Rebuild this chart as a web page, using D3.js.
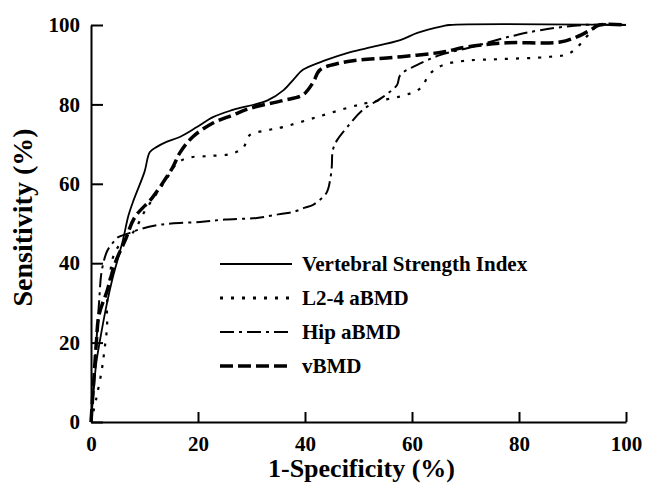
<!DOCTYPE html>
<html lang="en">
<head>
  <meta charset="utf-8">
  <title>ROC curves</title>
  <script src="https://d3js.org/d3.v7.min.js"></script>
  <style>
    body { margin: 0; background: #fff; }
    text { font-family: "Liberation Serif", "Times New Roman", serif; font-weight: bold; fill: #000; }
    .axis path, .axis line { stroke: #000; stroke-width: 2px; }
    .axis text { font-size: 21px; }
    .curve { fill: none; stroke: #000; stroke-linejoin: round; }
  </style>
</head>
<body>
  <svg width="648" height="494"></svg>
  <script>
    // series names (legend order)
    var seriesNames = ["Vertebral Strength Index", "L2-4 aBMD", "Hip aBMD", "vBMD"];

    // ROC points: [1-specificity %, sensitivity %]
    var vsiPoints = [[0,0],[0.5,8],[1,15],[2,23],[3,30],[4,36],[5,41],[6,46],[7,52],[8,56],[10,63],[11,68],
      [12.3,69.3],[14,70.5],[16.6,71.8],[19.8,74.3],[22.8,76.8],[26.5,78.6],[33,81],[36,83.6],[38,86.5],
      [39.6,88.7],[44,91.2],[48,93],[51.6,94.2],[57.8,96.2],[61,98],[65.8,99.7],[67,100],[100,100]];

    var l24Points = [[0,0],[1,6],[2,13],[2.5,18],[3,24],[3,30],[3.5,36],[4,41],[5,44],[6.5,46],[8,48],
      [10,53],[12,57],[14,61],[16,65],[18,66.5],[22,67],[26,67.5],[28.4,69],[29.7,72.3],[33,73.5],
      [35.9,74.3],[42.2,76.8],[48.4,79.3],[52,80.5],[57.8,82],[61.5,84],[63.4,87.8],[66,90],[70,91],
      [76.4,91.4],[85.8,92],[89.5,92.9],[93.3,98],[95,100],[100,100]];

    var hipPoints = [[0,0],[0.5,10],[1,20],[1.5,30],[2,38],[3,43],[4,45],[5,46.5],[7,47.5],[9,48.5],
      [12,49.5],[15,50],[20.4,50.4],[25,51],[31,51.4],[35,52.3],[37.8,52.9],[40,54],[41.5,54.7],[44,57.7],
      [44.7,61],[45,64.2],[45.2,68.5],[46,71],[47.9,74.3],[50.8,78.6],[54.6,81.9],[57.2,84.9],[57.8,87.4],
      [60.9,89.9],[65.2,92.4],[71.4,94.5],[76,96.3],[79.6,97.5],[84,98.7],[92,100],[100,100]];

    var vbmdPoints = [[0,0],[0.5,10],[1,20],[1.5,27],[3,33],[4.5,40],[6.4,45.8],[8.2,51.6],[11.4,56.4],
      [13.8,61],[15.3,64.2],[16.6,67.8],[19,71.8],[22.8,75.3],[26.5,77.3],[29.7,79],[35.9,81],[39.6,82.4],
      [41.5,85.5],[42.8,88.7],[46.5,90.4],[50.3,91.2],[55.3,91.7],[60.9,92.4],[65.8,93.2],[70.3,94.5],
      [77.8,95.5],[87.7,95.7],[90.8,97],[93.3,98.7],[95,100],[100,100]];

    var xTicks = [0, 20, 40, 60, 80, 100];
    var yTicks = [0, 20, 40, 60, 80, 100];

    var svg = d3.select("svg"),
        margin = {top: 25, right: 22, bottom: 72, left: 91},
        width = svg.attr("width") - margin.left - margin.right,
        height = svg.attr("height") - margin.top - margin.bottom,
        g = svg.append("g").attr("transform", "translate(" + margin.left + "," + margin.top + ")");

    var x = d3.scaleLinear().domain([0, 100]).range([0, width]),
        y = d3.scaleLinear().domain([0, 100]).range([height, 0]);

    var line = d3.line()
        .curve(d3.curveCatmullRom.alpha(0.5))
        .x(function(d) { return x(d[0]); })
        .y(function(d) { return y(d[1]); });

    // one style per series
    var styles = [
      {width: 1.8, dash: null},
      {width: 2.2, dash: "3,8"},
      {width: 2, dash: "14,5,3,5"},
      {width: 3.5, dash: "13,5"}
    ];
    var allPoints = [vsiPoints, l24Points, hipPoints, vbmdPoints];

    g.selectAll(".curve")
      .data(allPoints)
      .enter().append("path")
        .attr("class", "curve")
        .attr("d", function(d) { return line(d); })
        .style("stroke-width", function(d, i) { return styles[i].width; })
        .style("stroke-dasharray", function(d, i) { return styles[i].dash; });

    // axes, ticks pointing inward
    g.append("g")
        .attr("class", "axis axis--x")
        .attr("transform", "translate(0," + height + ")")
        .call(d3.axisBottom(x).tickValues(xTicks).tickSizeInner(-10).tickSizeOuter(0).tickPadding(14));

    g.append("g")
        .attr("class", "axis axis--y")
        .call(d3.axisLeft(y).tickValues(yTicks).tickSizeInner(-12).tickSizeOuter(0).tickPadding(11));

    g.selectAll(".axis text").style("font-family", null);
    svg.selectAll(".axis").attr("font-family", null).attr("font-size", null);

    g.append("text")
        .attr("x", width / 2 + 3)
        .attr("y", height + 55)
        .attr("text-anchor", "middle")
        .style("font-size", "26px")
        .text("1-Specificity (%)");

    g.append("text")
        .attr("transform", "rotate(-90)")
        .attr("x", -height / 2 + 6)
        .attr("y", -59)
        .attr("text-anchor", "middle")
        .style("font-size", "28px")
        .text("Sensitivity (%)");

    // legend
    var legend = g.append("g")
        .attr("transform", "translate(" + (220 - margin.left) + "," + (264 - margin.top) + ")");

    var rows = legend.selectAll(".row")
      .data(seriesNames)
      .enter().append("g")
        .attr("class", "row")
        .attr("transform", function(d, i) { return "translate(0," + i * 34 + ")"; });

    rows.append("line")
        .attr("x1", 0)
        .attr("x2", 72)
        .attr("stroke", "#000")
        .style("stroke-width", function(d, i) { return styles[i].width + (i == 1 ? 0.8 : 0); })
        .style("stroke-dasharray", function(d, i) { return styles[i].dash; });

    rows.append("text")
        .attr("x", 82)
        .attr("dy", "0.35em")
        .style("font-size", "21px")
        .text(function(d) { return d; });
  </script>
</body>
</html>
